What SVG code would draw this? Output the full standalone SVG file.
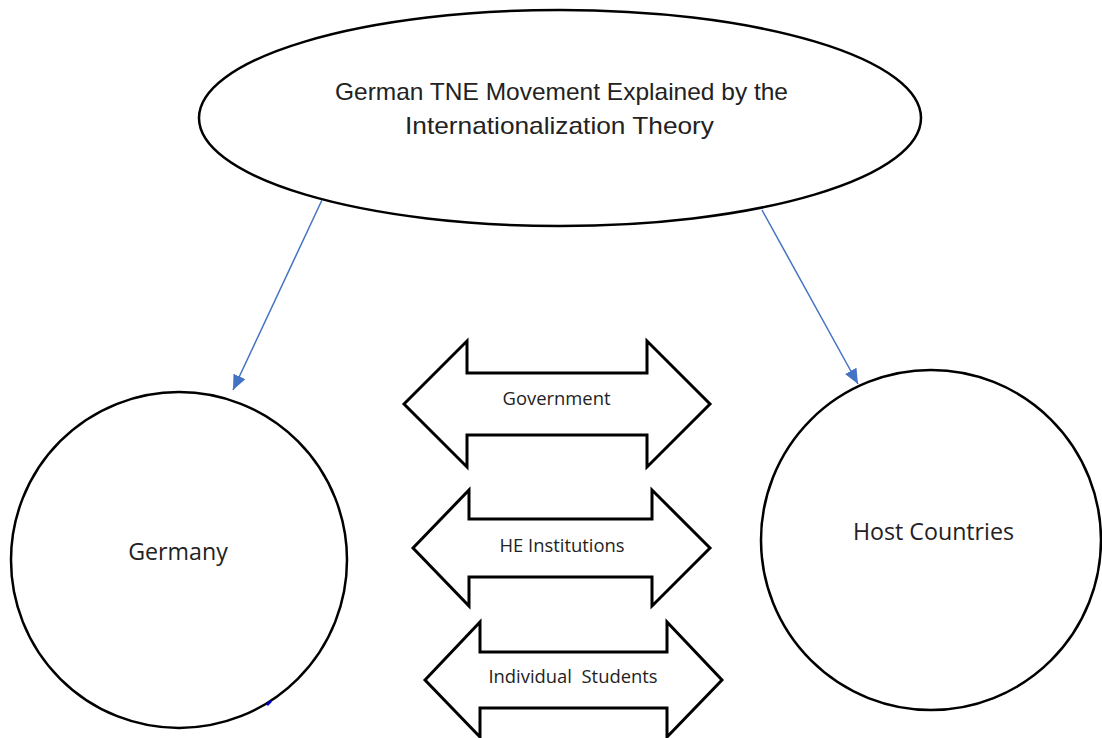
<svg xmlns="http://www.w3.org/2000/svg" width="1102" height="738" viewBox="0 0 1102 738">
<style>
.shape{fill:#fff;stroke:#000;stroke-width:2.5}
.block{fill:#fff;stroke:#000;stroke-width:3;stroke-linejoin:miter}
.conn{stroke:#4472C4;stroke-width:1.5;fill:none}
.title{font-family:"Liberation Sans",Arial,sans-serif;font-size:24px;fill:#222;text-anchor:middle}
.big{font-family:"Open Sans","Liberation Sans",sans-serif;font-size:23.2px;fill:#222;text-anchor:middle}
.small{font-family:"Open Sans","Liberation Sans",sans-serif;font-size:18.4px;fill:#222;text-anchor:middle;white-space:pre}
</style>
<defs>
<marker id="ah" viewBox="0 0 10 10" refX="10" refY="5" markerWidth="15" markerHeight="13" markerUnits="userSpaceOnUse" orient="auto" preserveAspectRatio="none">
<path d="M0,0 L10,5 L0,10 z" fill="#4472C4"/>
</marker>
</defs>
<rect width="1102" height="738" fill="#fff"/>
<g id="title">
<ellipse class="shape" cx="560" cy="118" rx="361" ry="108"/>
<text class="title" x="561.5" y="100" textLength="453" lengthAdjust="spacingAndGlyphs">German TNE Movement Explained by the</text>
<text class="title" x="559.5" y="134" textLength="309" lengthAdjust="spacingAndGlyphs">Internationalization Theory</text>
</g>
<g id="germany">
<circle class="shape" cx="179" cy="560" r="168"/>
<path d="M267,705 L271,701" stroke="#0000cc" stroke-width="2.5"/>
<text class="big" x="178" y="560">Germany</text>
</g>
<g id="host">
<circle class="shape" cx="931" cy="540" r="170"/>
<text class="big" x="933.5" y="540">Host Countries</text>
</g>
<g id="government">
<polygon class="block" points="404,404 467,341 467,373 647,373 647,341 710,404 647,467 647,435 467,435 467,467"/>
<text class="small" x="556.5" y="405">Government</text>
</g>
<g id="he">
<polygon class="block" points="413,548 469,490 469,519 652,519 652,490 710,548 652,606 652,577 469,577 469,606"/>
<text class="small" x="562" y="552">HE Institutions</text>
</g>
<g id="students">
<polygon class="block" points="425,680 480,622 480,652 667,652 667,622 722,680 667,737 667,708 480,708 480,737"/>
<text class="small" x="573" y="683">Individual  Students</text>
</g>
<g id="connectors">
<line class="conn" x1="322" y1="200" x2="233" y2="390" marker-end="url(#ah)"/>
<line class="conn" x1="762" y1="210" x2="858" y2="384" marker-end="url(#ah)"/>
</g>
</svg>
